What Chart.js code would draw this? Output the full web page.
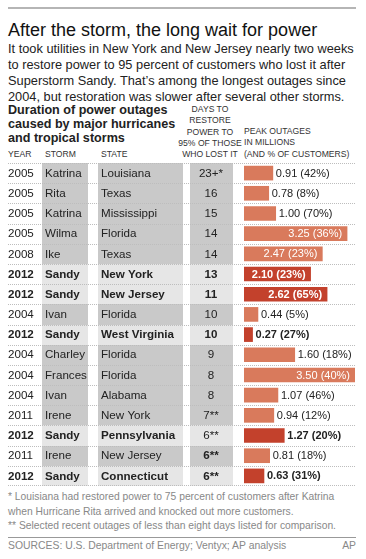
<!DOCTYPE html>
<html>
<head>
<meta charset="utf-8">
<script src="https://cdn.jsdelivr.net/npm/chart.js@4.4.1/dist/chart.umd.min.js"></script>
<style>
  html,body{margin:0;padding:0;background:#fff;}
  body{width:366px;height:559px;position:relative;overflow:hidden;font-family:"Liberation Sans",Arial,sans-serif;color:#222;}
  .abs{position:absolute;white-space:nowrap;}
  #topline{left:8px;top:7px;width:348px;height:2px;background:#b5b5b5;}
  #title{left:8px;top:19px;font-size:18px;line-height:22px;color:#111;}
  #sub{left:8px;top:41px;font-size:12.8px;line-height:16px;color:#222;}
  #sect{left:8px;top:103px;font-size:12.6px;line-height:14px;font-weight:bold;color:#222;}
  .hdr{font-size:8.6px;line-height:11.3px;color:#333;}
  #dayshdr{left:175px;top:104px;width:70px;text-align:center;}
  #peakhdr{left:244px;top:126px;}
  #chartwrap{left:0;top:163px;width:366px;height:323px;}
  #notes{left:8px;top:490px;font-size:10.3px;line-height:14.5px;color:#888;}
  #botline{left:8px;top:537px;width:348px;height:1px;background:#999;}
  #src{left:8px;top:539px;font-size:10.4px;line-height:13px;color:#888;}
  #ap{right:10px;top:539px;font-size:10.4px;line-height:13px;color:#888;}
</style>
</head>
<body>
<div class="abs" id="topline"></div>
<div class="abs" id="title">After the storm, the long wait for power</div>
<div class="abs" id="sub">It took utilities in New York and New Jersey nearly two weeks<br>to restore power to 95 percent of customers who lost it after<br>Superstorm Sandy. That’s among the longest outages since<br>2004, but restoration was slower after several other storms.</div>
<div class="abs" id="sect">Duration of power outages<br>caused by major hurricanes<br>and tropical storms</div>
<div class="abs hdr" id="dayshdr">DAYS TO<br>RESTORE<br>POWER TO<br>95% OF THOSE<br>WHO LOST IT</div>
<div class="abs hdr" id="peakhdr">PEAK OUTAGES<br>IN MILLIONS<br>(AND % OF CUSTOMERS)</div>
<div class="abs hdr" style="left:8px;top:149px;">YEAR</div>
<div class="abs hdr" style="left:45px;top:149px;">STORM</div>
<div class="abs hdr" style="left:101px;top:149px;">STATE</div>
<div class="abs" id="chartwrap"><canvas id="c" width="366" height="323"></canvas></div>
<div class="abs" id="notes">* Louisiana had restored power to 75 percent of customers after Katrina<br>when Hurricane Rita arrived and knocked out more customers.<br>** Selected recent outages of less than eight days listed for comparison.</div>
<div class="abs" id="botline"></div>
<div class="abs" id="src">SOURCES: U.S. Department of Energy; Ventyx; AP analysis</div>
<div class="abs" id="ap">AP</div>
<script>
const years   = ['2005','2005','2005','2005','2008','2012','2012','2004','2012','2004','2004','2004','2011','2012','2011','2012'];
const storms  = ['Katrina','Rita','Katrina','Wilma','Ike','Sandy','Sandy','Ivan','Sandy','Charley','Frances','Ivan','Irene','Sandy','Irene','Sandy'];
const states  = ['Louisiana','Texas','Mississippi','Florida','Texas','New York','New Jersey','Florida','West Virginia','Florida','Florida','Alabama','New York','Pennsylvania','New Jersey','Connecticut'];
const daysToRestore = ['23+*','16','15','14','14','13','11','10','10','9','8','8','7**','6**','6**','6**'];
const daysBold = [false,false,false,false,false,true,true,false,true,false,false,false,false,false,true,true];
const peakOutages = [0.91,0.78,1.00,3.25,2.47,2.10,2.62,0.44,0.27,1.60,3.50,1.07,0.94,1.27,0.81,0.63];
const pctCustomers = ['42%','8%','70%','36%','23%','23%','65%','5%','27%','18%','40%','46%','12%','20%','18%','31%'];

const isSandy = storms.map(s => s === 'Sandy');
const FONT = '"Liberation Sans", Arial, sans-serif';

const tablePlugin = {
  id: 'tablePlugin',
  beforeDatasetsDraw(chart) {
    const ctx = chart.ctx;
    const y = chart.scales.y;
    const n = years.length;
    const rowH = (chart.chartArea.bottom - chart.chartArea.top) / n;
    ctx.save();
    for (let i = 0; i < n; i++) {
      const cy = y.getPixelForValue(i);
      const top = Math.round(cy - rowH / 2), bot = Math.round(cy + rowH / 2);
      ctx.fillStyle = isSandy[i] ? '#e6e6e6' : '#c9c9c9';
      ctx.fillRect(42, top, 46, bot - top);
      ctx.fillRect(98, top, 85, bot - top);
      ctx.fillRect(190, top, 43, bot - top);
    }
    ctx.fillStyle = '#bdbdbd';
    for (let i = 0; i <= n; i++) {
      const yy = Math.min(Math.round(chart.chartArea.top + i * rowH), chart.chartArea.bottom - 1);
      for (let x = 8; x < 356; x += 2) ctx.fillRect(x, yy, 1, 1);
    }
    ctx.textBaseline = 'middle';
    for (let i = 0; i < n; i++) {
      const cy = y.getPixelForValue(i) + 0.5;
      const b = isSandy[i] ? 'bold ' : '';
      ctx.fillStyle = '#222';
      ctx.font = b + '11.6px ' + FONT;
      ctx.textAlign = 'left';
      ctx.fillText(years[i], 8, cy);
      ctx.fillText(storms[i], 45, cy);
      ctx.fillText(states[i], 101, cy);
      ctx.font = (daysBold[i] ? 'bold ' : '') + '11.6px ' + FONT;
      ctx.textAlign = 'center';
      ctx.fillText(daysToRestore[i], 211, cy);
    }
    ctx.restore();
  },
  afterDatasetsDraw(chart) {
    const ctx = chart.ctx;
    const meta = chart.getDatasetMeta(0);
    ctx.save();
    ctx.textBaseline = 'middle';
    meta.data.forEach((bar, i) => {
      const label = peakOutages[i].toFixed(2) + ' (' + pctCustomers[i] + ')';
      ctx.font = (isSandy[i] ? 'bold ' : '') + '11px ' + FONT;
      if (peakOutages[i] >= 2) {
        ctx.fillStyle = '#fff';
        ctx.textAlign = 'right';
        ctx.fillText(label, bar.x - 5, bar.y + 0.5);
      } else {
        ctx.fillStyle = '#222';
        ctx.textAlign = 'left';
        ctx.fillText(label, bar.x + 3, bar.y + 0.5);
      }
    });
    ctx.restore();
  }
};

new Chart(document.getElementById('c'), {
  type: 'bar',
  data: {
    labels: years.map((_, i) => String(i)),
    datasets: [{
      data: peakOutages,
      backgroundColor: isSandy.map(s => s ? '#c3412c' : '#d97a5c'),
      borderWidth: 0,
      barThickness: 14
    }]
  },
  options: {
    indexAxis: 'y',
    responsive: false,
    maintainAspectRatio: false,
    animation: false,
    devicePixelRatio: 1,
    layout: { padding: { left: 244, right: 11, top: 0, bottom: 0 } },
    plugins: { legend: { display: false }, tooltip: { enabled: false } },
    scales: {
      x: { display: false, min: 0, max: 3.5 },
      y: { display: false }
    }
  },
  plugins: [tablePlugin]
});
</script>
</body>
</html>
